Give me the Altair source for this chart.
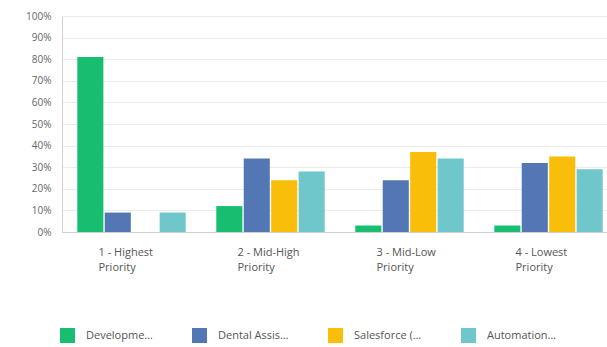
import altair as alt
import pandas as pd

categories = ["1 - Highest Priority", "2 - Mid-High Priority", "3 - Mid-Low Priority", "4 - Lowest Priority"]
series = ["Development Team", "Dental Assistant Program", "Salesforce (CRM) Training", "Automation Technician"]
colors = ["#17BE6F", "#5277B4", "#F8BE0A", "#6FC7CB"]
development = [0.81, 0.12, 0.03, 0.03]
dental = [0.09, 0.34, 0.24, 0.32]
salesforce = [0.0, 0.24, 0.37, 0.35]
automation = [0.09, 0.28, 0.34, 0.29]
y_ticks = [0, 0.1, 0.2, 0.3, 0.4, 0.5, 0.6, 0.7, 0.8, 0.9, 1.0]

rows = []
for s, vals in zip(series, [development, dental, salesforce, automation]):
    for c, v in zip(categories, vals):
        rows.append({"category": c, "series": s, "value": v})
df = pd.DataFrame(rows)

FONT = "Open Sans"

chart = alt.Chart(df).mark_bar().encode(
    x=alt.X("category:N", sort=categories,
            scale=alt.Scale(range=[0, 556], paddingInner=0.22, paddingOuter=0.11),
            axis=alt.Axis(title=None, labelAngle=0, ticks=False, domain=True,
                          domainColor="#d0d0d0", labelColor="#555555", labelFontSize=11,
                          labelFont=FONT, labelPadding=14, labelAlign="left", labelOffset=-33,
                          labelLineHeight=15,
                          labelExpr="[replace(datum.label, ' Priority', ''), 'Priority']")),
    xOffset=alt.XOffset("series:N", sort=series, scale=alt.Scale(paddingInner=0.05)),
    y=alt.Y("value:Q", scale=alt.Scale(domain=[0, 1], nice=False),
            axis=alt.Axis(title=None, values=y_ticks, format=".0%", ticks=False,
                          domain=True, domainColor="#d0d0d0", gridColor="#ebebeb",
                          labelColor="#666666", labelFontSize=10, labelFont=FONT,
                          labelPadding=11)),
    color=alt.Color("series:N", sort=series,
                    scale=alt.Scale(domain=series, range=colors),
                    legend=alt.Legend(title=None, orient="none", legendX=-2, legendY=312,
                                      direction="horizontal", symbolType="square",
                                      symbolSize=225, symbolStrokeWidth=0,
                                      labelLimit=72, labelFontSize=11, labelColor="#555555",
                                      labelFont=FONT, columnPadding=39, labelOffset=11,
                                      symbolOpacity=1)),
).properties(
    width=545, height=216,
    autosize=alt.AutoSizeParams(type="none"),
    padding={"left": 62, "top": 16, "right": 0, "bottom": 115},
).configure_view(stroke=None)

chart.save("out.html", embed_options={"renderer": "svg", "actions": False})
